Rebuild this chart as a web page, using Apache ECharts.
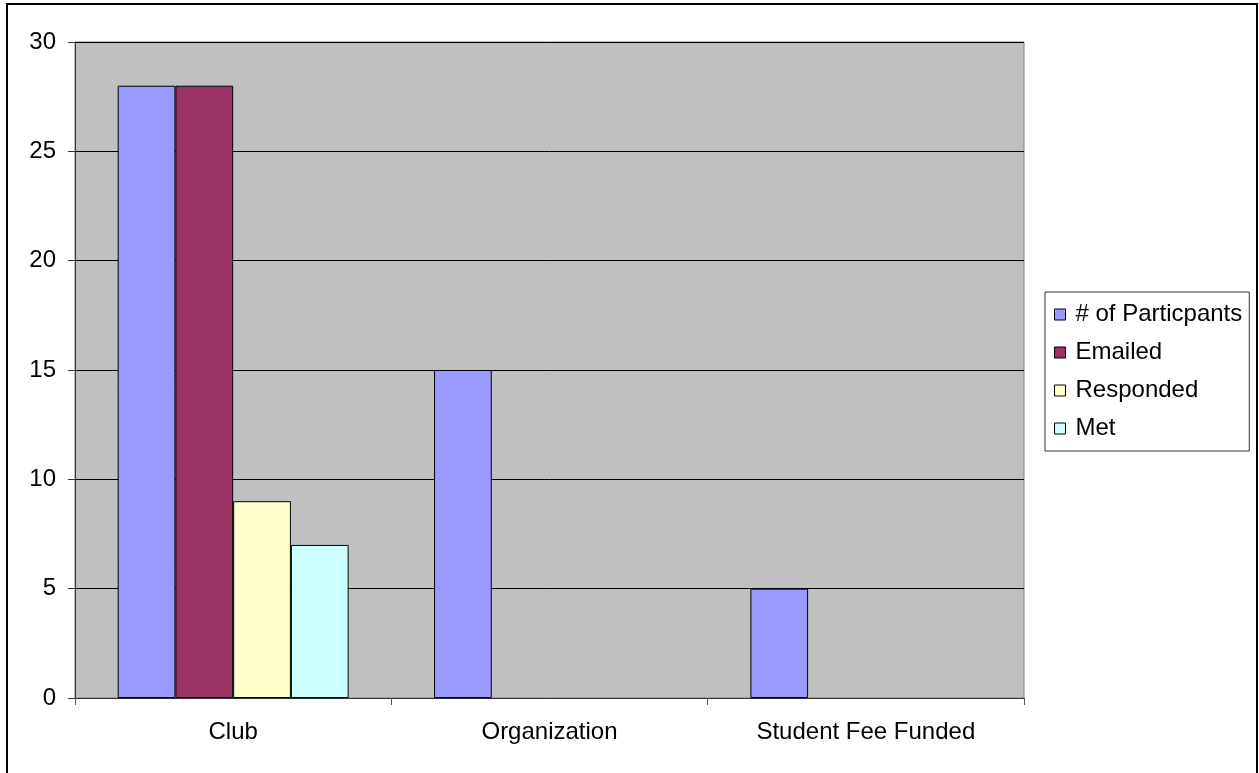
<!DOCTYPE html>
<html>
<head>
<meta charset="utf-8">
<script src="https://cdn.jsdelivr.net/npm/echarts@6/dist/echarts.min.js"></script>
<style>
html,body{margin:0;padding:0;background:#fff;}
#c{width:1259px;height:773px;}
</style>
</head>
<body>
<div id="c"></div>
<script>
var categories = ['Club', 'Organization', 'Student Fee Funded'];
var seriesNames = ['# of Particpants', 'Emailed', 'Responded', 'Met'];
var participants = [28, 15, 5];
var emailed = [28, 0, 0];
var responded = [9, 0, 0];
var met = [7, 0, 0];
var colors = ['#9999FF', '#993366', '#FFFFCC', '#CCFFFF'];
var yTicks = [0, 5, 10, 15, 20, 25, 30];

var font = 'Liberation Sans, Arial, sans-serif';
var dataSets = [participants, emailed, responded, met];

var chart = echarts.init(document.getElementById('c'));
chart.setOption({
  animation: false,
  backgroundColor: '#ffffff',
  graphic: [{
    type: 'rect',
    shape: {x: 7, y: 4, width: 1250, height: 820},
    style: {fill: 'none', stroke: '#000', lineWidth: 2},
    silent: true
  }],
  grid: {
    left: 75, top: 42, right: 235, bottom: 75,
    show: true,
    backgroundColor: '#C0C0C0',
    borderColor: '#808080',
    borderWidth: 1
  },
  legend: {
    orient: 'vertical',
    left: 1045,
    top: 292,
    padding: [9, 7, 9, 9],
    itemWidth: 11,
    itemHeight: 11,
    itemGap: 11,
    borderColor: '#333',
    borderWidth: 1,
    backgroundColor: '#fff',
    icon: 'rect',
    textStyle: {fontFamily: font, fontSize: 24, color: '#000', lineHeight: 27, padding: [0, 0, 0, 5]},
    data: seriesNames.map(function (n, i) {
      return {name: n, itemStyle: {color: colors[i], borderColor: '#000', borderWidth: 1}};
    })
  },
  xAxis: {
    type: 'category',
    data: categories,
    axisLine: {show: true, lineStyle: {color: '#333', width: 1}},
    axisTick: {show: true, length: 7, lineStyle: {color: '#555'}},
    axisLabel: {fontFamily: font, fontSize: 24, color: '#000', margin: 22},
    splitLine: {show: false}
  },
  yAxis: {
    type: 'value',
    min: 0, max: 30, interval: 5,
    axisLine: {show: true, lineStyle: {color: '#333', width: 1}},
    axisTick: {show: true, length: 7, lineStyle: {color: '#333'}},
    axisLabel: {fontFamily: font, fontSize: 24, color: '#000', margin: 19,
      formatter: function (v) { return yTicks.indexOf(v) >= 0 ? String(v) : ''; }},
    splitLine: {show: true, lineStyle: {color: '#000', width: 1}}
  },
  series: dataSets.map(function (d, i) {
    return {
      name: seriesNames[i],
      type: 'bar',
      data: d.map(function (v) {
        return v === 0 ? {value: v, itemStyle: {borderWidth: 0}} : v;
      }),
      barGap: '0%',
      barCategoryGap: '27%',
      itemStyle: {color: colors[i], borderColor: '#000', borderWidth: 1}
    };
  })
});
</script>
</body>
</html>
